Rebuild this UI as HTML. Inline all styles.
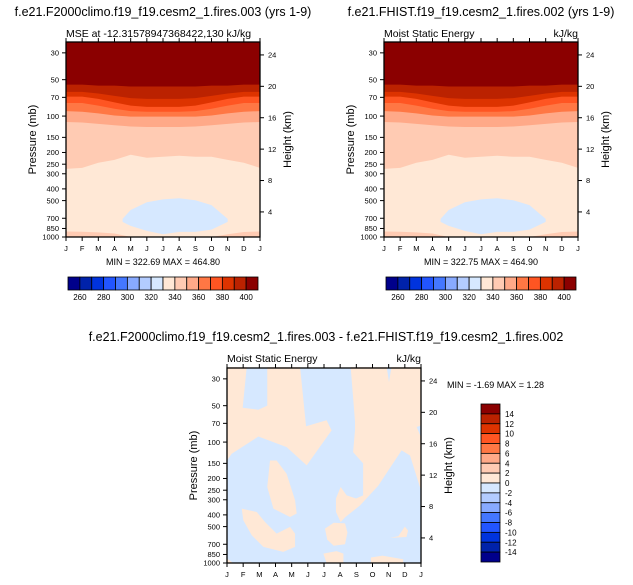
<!DOCTYPE html>
<html><head><meta charset="utf-8"><style>
html,body{margin:0;padding:0;background:#fff;}
svg{display:block;font-family:"Liberation Sans",Arial,sans-serif;}
</style></head><body>
<svg id="chart" width="633" height="585" viewBox="0 0 633 585" xmlns="http://www.w3.org/2000/svg"></svg>
<script>
// ---- data ----
const months = ["J","F","M","A","M","J","J","A","S","O","N","D","J"];
const pressureTicks = [30,50,70,100,150,200,250,300,400,500,700,850,1000];
const heightTicks = [4,8,12,16,20,24];
const bandColors = ["#8b0000","#bb2200","#dd3300","#ff5522","#ff7744","#ffa988","#ffcbb3"];
// boundary pressures (mb) of each band's lower edge, per month J..J
const b1 = [55,55,56,56,57,57,57,57,57,56,56,55,55];
const b2 = [63,63,65,68,71,72,72,72,71,68,65,63,63];
const b3 = [69,69,72,77,82,84,84,84,82,77,72,69,69];
const b4 = [78,78,82,87,91,92,92,92,91,87,82,78,78];
const b5 = [91,92,95,99,101,101,101,101,101,99,95,92,91];
const b6 = [112,113,116,119,122,123,123,123,122,119,116,113,112];
const b7 = [273,268,243,230,209,221,217,213,217,217,230,243,268];
const b8 = [900,905,915,935,1000,1000,1000,1000,1000,1000,950,910,900];
const blobX = [3.5,4,5,6,7,8,9,10];
const blobTop = [708,598,516,488,478,497,545,708];
const blobBot = [750,810,890,950,906,906,870,750];
const cbColors = ["#00008b","#0022aa","#0033dd","#2255ff","#4477ff","#88aaff","#b3ccff","#d6e8ff","#ffe8d6","#ffcbb3","#ffa988","#ff7744","#ff5522","#dd3300","#bb2200","#8b0000"];
const cbLabels = [260,280,300,320,340,360,380,400];
const diffLabels = [14,12,10,8,6,4,2,0,-2,-4,-6,-8,-10,-12,-14];
// difference-plot positive regions: [month, pressure] vertices
const diffRegions = [
 [[0,24],[1.22,24],[0.97,52],[1.94,54],[2.49,50],[2.49,24],[4.52,24],[4.89,74],[6.16,66],[6.47,80],[4.93,156],[3.69,110],[1.94,90],[0.29,125],[0,142]],
 [[7.65,24],[9.88,24],[10.02,32],[10.17,24],[12,24],[12,73],[11.73,75],[12,91],[12,251],[11.32,129],[10.8,117],[9.36,229],[8.23,334],[7.3,419],[7.03,459],[6.74,378],[6.74,293],[7.03,235],[7.4,276],[7.98,293],[8.42,276],[8.42,150],[7.8,121],[7.92,79],[7.92,68]],
 [[2.66,142],[3.07,142],[3.69,183],[4.21,303],[4.31,390],[3.9,416],[2.87,355],[2.49,235]],
 [[0.91,355],[1.84,379],[2.35,458],[3.07,571],[3.9,503],[4.21,571],[4.21,736],[3.48,810],[2.25,736],[1.53,589],[1.01,443]],
 [[6.06,520],[6.6,465],[7.3,470],[7.45,560],[7.3,700],[6.6,720],[6.2,640]],
 [[10.08,620],[10.6,600],[11.0,500],[11.2,540],[11.1,610]],
 [[5.96,836],[6.78,798],[7.2,836],[7.2,1000],[6.16,1000]],
 [[8.9,900],[9.6,870],[10.9,930],[10.9,1000],[8.9,1000]],
 [[0,919],[0.39,1000],[0,1000]]
];

const NS="http://www.w3.org/2000/svg";
const svg=document.getElementById('chart');
function el(tag,attrs,parent,text){const e=document.createElementNS(NS,tag);for(const k in attrs)e.setAttribute(k,attrs[k]);if(text!==undefined)e.textContent=text;(parent||svg).appendChild(e);return e;}
const PTOP=24.4;
function axes(ox,oy,w,h){
  return {x:m=>ox+m*w/12, y:p=>oy+(Math.log(p)-Math.log(PTOP))/(Math.log(1000)-Math.log(PTOP))*h};
}
function kmToP(z){return 1128*Math.exp(-z/6.69);}

function frame(g,ox,oy,w,h,A){
  el('rect',{x:ox,y:oy,width:w,height:h,fill:'none',stroke:'#000','stroke-width':1.3},g);
  months.forEach((m,i)=>{
    const x=A.x(i);
    el('line',{x1:x,y1:oy+h,x2:x,y2:oy+h+4,stroke:'#000'},g);
    el('line',{x1:x,y1:oy,x2:x,y2:oy-4,stroke:'#000'},g);
    const t=el('text',{x:x,y:oy+h+14,'font-size':7.5,'text-anchor':'middle'},g,m);
    
    
  });
  pressureTicks.forEach(p=>{
    const y=A.y(p);
    el('line',{x1:ox,y1:y,x2:ox-4,y2:y,stroke:'#000'},g);
    const t=el('text',{x:ox-7,y:y+2.7,'font-size':7.5,'text-anchor':'end'},g,String(p));
    
    
  });
  heightTicks.forEach(z=>{
    const y=A.y(kmToP(z));
    el('line',{x1:ox+w,y1:y,x2:ox+w+4,y2:y,stroke:'#000'},g);
    const t=el('text',{x:ox+w+8,y:y+2.7,'font-size':7.5},g,String(z));
    
    
  });
  const yt=el('text',{transform:`translate(${ox-30},${oy+h/2}) rotate(-90)`,'font-size':11,'text-anchor':'middle'},g,'Pressure (mb)');
  
  
  const yt2=el('text',{transform:`translate(${ox+w+31},${oy+h/2}) rotate(-90)`,'font-size':11,'text-anchor':'middle'},g,'Height (km)');
  
  
}

function topPanel(ox,name,title,sub,subR,minmax){
  const oy=42,w=194,h=195;
  const g=el('g',{},svg);
  
  
  const A=axes(ox,oy,w,h);
  el('rect',{x:ox,y:oy,width:w,height:h,fill:'#ffe8d6'},g);
  const bands=[b7,b6,b5,b4,b3,b2,b1];
  bands.forEach((b,k)=>{
    let pts=[[A.x(0),oy]];
    b.forEach((p,i)=>pts.push([A.x(i),A.y(p)]));
    pts.push([A.x(12),oy]);
    const poly=el('polygon',{points:pts.map(q=>q.join(',')).join(' '),fill:bandColors[6-k]},g);
    
    
  });
  let pts=[];
  b8.forEach((p,i)=>pts.push([A.x(i),A.y(p)]));
  pts.push([A.x(12),oy+h],[A.x(0),oy+h]);
  const lb=el('polygon',{points:pts.map(q=>q.join(',')).join(' '),fill:'#ffcbb3'},g);
  
  
  pts=[];
  blobX.forEach((m,i)=>pts.push([A.x(m),A.y(blobTop[i])]));
  for(let i=blobX.length-1;i>=0;i--)pts.push([A.x(blobX[i]),A.y(blobBot[i])]);
  const bl=el('polygon',{points:pts.map(q=>q.join(',')).join(' '),fill:'#d6e8ff'},g);
  
  
  frame(g,ox,oy,w,h,A);
  const t=el('text',{x:ox+97,y:16,'font-size':12.5,'text-anchor':'middle'},g,title);
  
  
  const s=el('text',{x:ox,y:37,'font-size':10.5},g,sub);
  
  
  if(subR){const r=el('text',{x:ox+w,y:37,'font-size':10.5,'text-anchor':'end'},g,subR);
    
    }
  const mm=el('text',{x:ox+97,y:265,'font-size':9,'text-anchor':'middle'},g,minmax);
  
  
  // colorbar
  const cx=ox+2,cw=190/16;
  const cb=el('g',{},g);
  
  
  cbColors.forEach((c,i)=>{el('rect',{x:cx+i*cw,y:277,width:cw,height:13,fill:c,stroke:'#000','stroke-width':0.8},cb);});
  cbLabels.forEach((v,k)=>{
    const lt=el('text',{x:cx+cw*(2*k+1),y:300,'font-size':8,'text-anchor':'middle'},cb,String(v));
    
    
  });
}
topPanel(66,'control-panel','f.e21.F2000climo.f19_f19.cesm2_1.fires.003 (yrs 1-9)','MSE at -12.31578947368422,130 kJ/kg',null,'MIN = 322.69 MAX = 464.80');
topPanel(384,'test-panel','f.e21.FHIST.f19_f19.cesm2_1.fires.002 (yrs 1-9)','Moist Static Energy','kJ/kg','MIN = 322.75 MAX = 464.90');

// difference panel
(function(){
  const ox=227,oy=368,w=194,h=195;
  const g=el('g',{},svg);
  
  
  const A=axes(ox,oy,w,h);
  el('rect',{x:ox,y:oy,width:w,height:h,fill:'#d6e8ff'},g);
  diffRegions.forEach(r=>{
    const poly=el('polygon',{points:r.map(q=>A.x(q[0])+','+A.y(q[1])).join(' '),fill:'#ffe8d6'},g);
    
    
  });
  frame(g,ox,oy,w,h,A);
  const t=el('text',{x:326,y:341,'font-size':12.5,'text-anchor':'middle'},g,'f.e21.F2000climo.f19_f19.cesm2_1.fires.003 - f.e21.FHIST.f19_f19.cesm2_1.fires.002');
  
  
  const s=el('text',{x:ox,y:362,'font-size':10.5},g,'Moist Static Energy');
  
  
  const u=el('text',{x:ox+w,y:362,'font-size':10.5,'text-anchor':'end'},g,'kJ/kg');
  
  
  const mm=el('text',{x:447,y:388,'font-size':9},g,'MIN =  -1.69 MAX =   1.28');
  
  
  const cb=el('g',{},g);
  
  
  const ch=158/16;
  cbColors.slice().reverse().forEach((c,i)=>{el('rect',{x:481,y:404+i*ch,width:19,height:ch,fill:c,stroke:'#000','stroke-width':0.8},cb);});
  diffLabels.forEach((v,i)=>{
    const lt=el('text',{x:505,y:404+ch*(i+1)+3,'font-size':8},cb,String(v));
    
    
  });
})();
</script>
</body></html>
